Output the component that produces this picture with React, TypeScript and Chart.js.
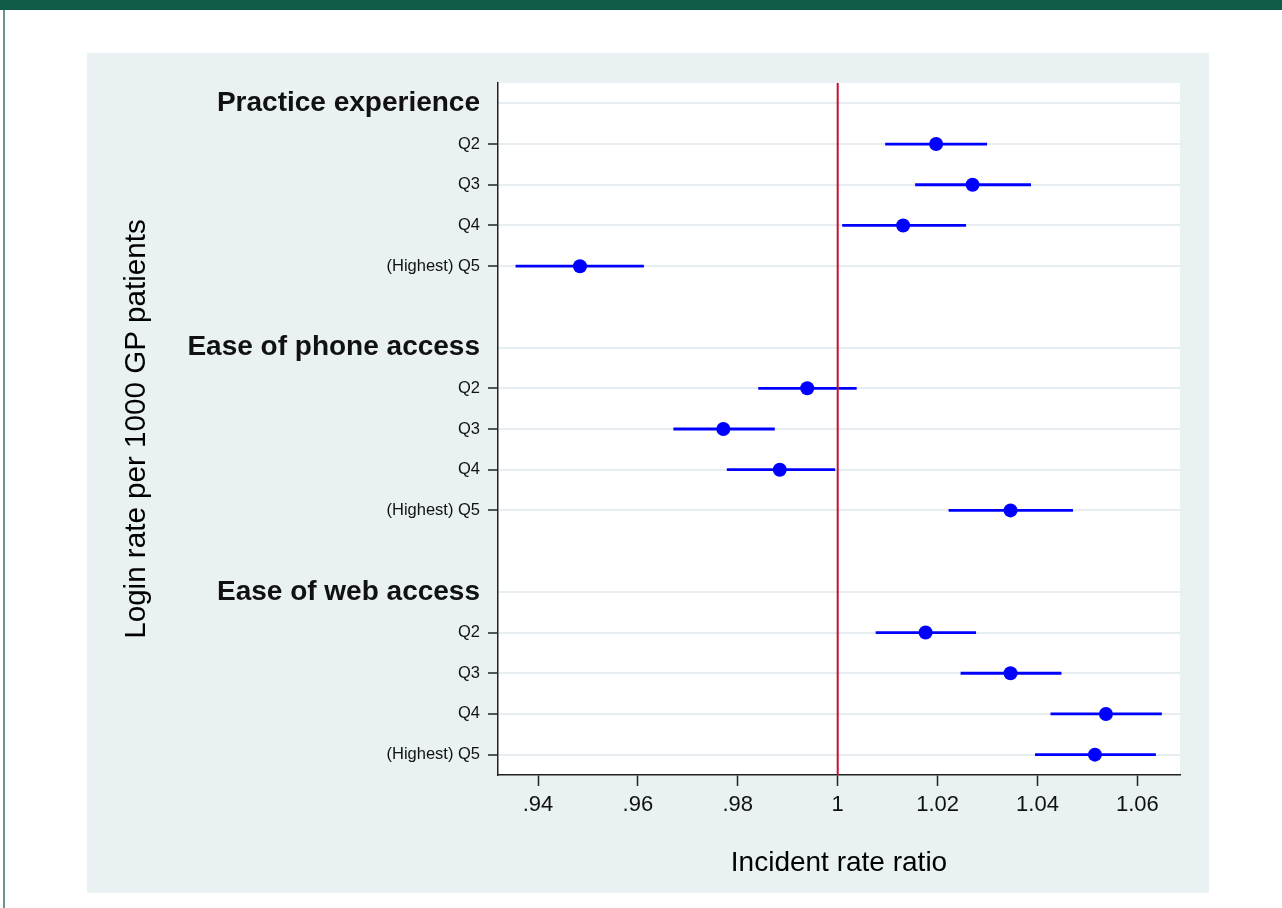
import React, { useEffect, useRef } from 'react';
import { Chart, registerables } from 'chart.js';

Chart.register(...registerables);

// ---- Data ----
const rowLabels = [
  'Practice experience', 'Q2', 'Q3', 'Q4', '(Highest) Q5', '',
  'Ease of phone access', 'Q2', 'Q3', 'Q4', '(Highest) Q5', '',
  'Ease of web access', 'Q2', 'Q3', 'Q4', '(Highest) Q5',
];
const headerRows = [0, 6, 12];
const blankRows = [5, 11];
const estimateRows = [1, 2, 3, 4, 7, 8, 9, 10, 13, 14, 15, 16];
const estimates = [1.0197, 1.027, 1.0131, 0.9484, 0.9939, 0.9771, 0.9884, 1.0346, 1.0176, 1.0346, 1.0537, 1.0515];
const lowerCI = [1.0095, 1.0155, 1.0009, 0.9355, 0.9841, 0.9671, 0.9778, 1.0222, 1.0076, 1.0246, 1.0426, 1.0395];
const upperCI = [1.0299, 1.0387, 1.0257, 0.9612, 1.0038, 0.9874, 0.9995, 1.0471, 1.0277, 1.0448, 1.0649, 1.0637];
const xTickValues = [0.94, 0.96, 0.98, 1, 1.02, 1.04, 1.06];
const xTickLabels = ['.94', '.96', '.98', '1', '1.02', '1.04', '1.06'];
const referenceValue = 1;
const xTitle = 'Incident rate ratio';
const yTitle = 'Login rate per 1000 GP patients';

const FONT = '"Liberation Sans", Arial, Helvetica, sans-serif';
const PANEL = '#e9f1f3';
const GRID = '#e6eef1';
const BLUE = '#0000ff';
const RED = '#c8102e';
const AXIS = '#222222';

const bgPlugin = {
  id: 'bgPlugin',
  beforeDraw(chart: any) {
    const { ctx, chartArea } = chart;
    ctx.save();
    ctx.fillStyle = PANEL;
    ctx.fillRect(0, 0, chart.width, chart.height);
    ctx.fillStyle = '#ffffff';
    ctx.fillRect(chartArea.left, chartArea.top, chartArea.right - chartArea.left, chartArea.bottom - chartArea.top);
    ctx.restore();
  },
};

export default function App() {
  const ref = useRef<HTMLCanvasElement | null>(null);

  useEffect(() => {
    if (!ref.current) return;
    const ciDatasets = estimateRows.map((row, i) => ({
      type: 'scatter' as const,
      data: [
        { x: lowerCI[i], y: row },
        { x: upperCI[i], y: row },
      ],
      showLine: true,
      borderColor: BLUE,
      borderWidth: 2.8,
      pointRadius: 0,
      borderCapStyle: 'butt',
      order: 2,
    }));

    const chart = new Chart(ref.current, {
      type: 'scatter',
      data: {
        datasets: [
          {
            data: estimateRows.map((row, i) => ({ x: estimates[i], y: row })),
            backgroundColor: BLUE,
            borderColor: BLUE,
            borderWidth: 0,
            pointRadius: 7,
            order: 0,
          },
          {
            data: [
              { x: referenceValue, y: -0.5 },
              { x: referenceValue, y: rowLabels.length - 0.5 },
            ],
            showLine: true,
            borderColor: RED,
            borderWidth: 2,
            pointRadius: 0,
            order: 1,
          },
          ...ciDatasets,
        ] as any,
      },
      options: {
        animation: false,
        responsive: false,
        events: [],
        layout: { padding: { left: 0, right: 29, top: 30, bottom: 0 } },
        plugins: {
          legend: { display: false },
          tooltip: { enabled: false },
        },
        scales: {
          x: {
            type: 'linear',
            min: 0.93199,
            max: 1.06853,
            afterBuildTicks: (scale: any) => {
              scale.ticks = xTickValues.map((v) => ({ value: v }));
            },
            afterFit: (scale: any) => {
              scale.height = 118;
            },
            ticks: {
              autoSkip: false,
              maxRotation: 0,
              padding: 6,
              color: '#111111',
              font: { family: FONT, size: 22 },
              callback: (value: any) => {
                const idx = xTickValues.findIndex((v) => Math.abs(v - value) < 1e-9);
                return idx >= 0 ? xTickLabels[idx] : '';
              },
            },
            grid: {
              drawOnChartArea: false,
              drawTicks: true,
              tickLength: 11,
              tickColor: AXIS,
              tickWidth: 1.5,
            },
            border: { display: true, color: AXIS, width: 1.5 },
            title: {
              display: true,
              text: xTitle,
              color: '#000000',
              font: { family: FONT, size: 28 },
              padding: { top: 0, bottom: 13 },
            },
          },
          y: {
            type: 'linear',
            reverse: true,
            min: -0.5,
            max: rowLabels.length - 0.5,
            afterBuildTicks: (scale: any) => {
              scale.ticks = rowLabels
                .map((_, i) => i)
                .filter((i) => !blankRows.includes(i))
                .map((i) => ({ value: i }));
            },
            afterFit: (scale: any) => {
              scale.width = 411;
            },
            ticks: {
              autoSkip: false,
              padding: 8,
              color: '#111111',
              font: (ctx: any) => {
                const v = ctx.tick ? ctx.tick.value : -1;
                return headerRows.includes(v)
                  ? { family: FONT, size: 28, weight: 'bold' }
                  : { family: FONT, size: 16.5 };
              },
              callback: (value: any) => rowLabels[Math.round(value)] ?? '',
            },
            grid: {
              drawOnChartArea: true,
              drawTicks: true,
              lineWidth: 2,
              color: GRID,
              tickLength: 10,
              tickWidth: 1.5,
              tickColor: (ctx: any) => {
                const v = ctx.tick ? ctx.tick.value : -1;
                return headerRows.includes(v) ? 'rgba(0,0,0,0)' : AXIS;
              },
            },
            border: { display: true, color: AXIS, width: 1.5 },
            title: {
              display: true,
              text: yTitle,
              color: '#000000',
              font: { family: FONT, size: 29.6 },
              padding: { top: 32, bottom: 0 },
            },
          },
        },
      } as any,
      plugins: [bgPlugin],
    });
    return () => chart.destroy();
  }, []);

  return (
    <div
      style={{
        position: 'fixed',
        left: 0,
        top: 0,
        width: 1282,
        height: 908,
        background: '#ffffff',
        overflow: 'hidden',
      }}
    >
      <div style={{ position: 'absolute', left: 0, top: 0, width: 1282, height: 10, background: '#115c49' }} />
      <div style={{ position: 'absolute', left: 3, top: 10, width: 2, height: 898, background: '#6a968a' }} />
      <canvas
        ref={ref}
        width={1122}
        height={840}
        style={{ position: 'absolute', left: 87, top: 53, width: 1122, height: 840 }}
      />
    </div>
  );
}
